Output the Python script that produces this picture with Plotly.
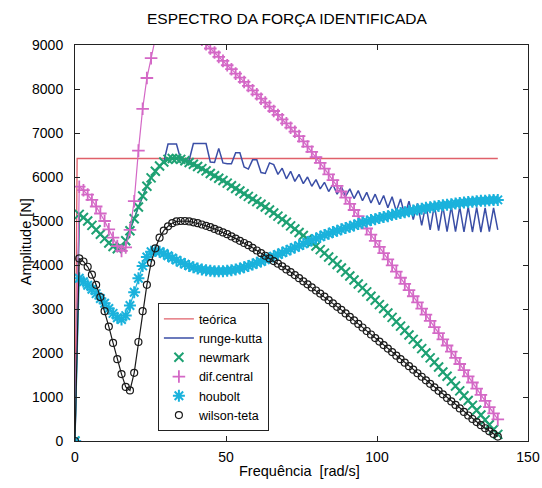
import plotly.graph_objects as go

# frequency grid [rad/s]
freq = [0.0, 1.4, 2.8, 4.2, 5.6, 7.0, 8.4, 9.8, 11.2, 12.6,
        14.0, 15.4, 16.8, 18.2, 19.6, 21.0, 22.4, 23.8, 25.2, 26.6,
        28.0, 29.4, 30.8, 32.2, 33.6, 35.0, 36.4, 37.8, 39.2, 40.6,
        42.0, 43.4, 44.8, 46.2, 47.6, 49.0, 50.4, 51.8, 53.2, 54.6,
        56.0, 57.4, 58.8, 60.2, 61.6, 63.0, 64.4, 65.8, 67.2, 68.6,
        70.0, 71.4, 72.8, 74.2, 75.6, 77.0, 78.4, 79.8, 81.2, 82.6,
        84.0, 85.4, 86.8, 88.2, 89.6, 91.0, 92.4, 93.8, 95.2, 96.6,
        98.0, 99.4, 100.8, 102.2, 103.6, 105.0, 106.4, 107.8, 109.2, 110.6,
        112.0, 113.4, 114.8, 116.2, 117.6, 119.0, 120.4, 121.8, 123.2, 124.6,
        126.0, 127.4, 128.8, 130.2, 131.6, 133.0, 134.4, 135.8, 137.2, 138.6,
        140.0]

teorica_freq = [0.0, 0.7, 140.0]
teorica = [0, 6420, 6420]

runge_kutta = [0, 5150, 5080, 5000, 4900, 4800, 4700, 4600, 4500, 4420,
               4370, 4400, 4550, 4780, 5050, 5320, 5570, 5790, 5980, 6130,
               6250, 6340, 6750, 6750, 6750, 6400, 6380, 6380, 6760, 6760,
               6760, 6760, 6340, 6330, 6650, 6320, 6300, 6300, 6550, 6550,
               6230, 6180, 6390, 6390, 6100, 6080, 6320, 6280, 6060, 6200,
               5960, 6130, 5900, 6060, 5850, 6000, 5790, 5940, 5730, 5880,
               5670, 5830, 5610, 5780, 5560, 5730, 5510, 5690, 5460, 5650,
               5410, 5610, 5370, 5580, 5300, 5550, 5220, 5500, 5130, 5450,
               5030, 5400, 4900, 5380, 4800, 5360, 4780, 5340, 4760, 5330,
               4760, 5320, 4750, 5320, 4750, 5310, 4750, 5300, 4760, 5300,
               4800]

newmark = [0, 5150, 5080, 5000, 4900, 4800, 4700, 4600, 4500, 4420,
           4370, 4400, 4550, 4780, 5050, 5320, 5570, 5790, 5980, 6130,
           6250, 6340, 6400, 6420, 6420, 6400, 6370, 6330, 6290, 6240,
           6190, 6140, 6080, 6030, 5970, 5920, 5860, 5800, 5740, 5680,
           5620, 5560, 5500, 5440, 5380, 5320, 5250, 5180, 5110, 5040,
           4970, 4890, 4820, 4740, 4670, 4590, 4510, 4430, 4350, 4270,
           4180, 4100, 4010, 3930, 3840, 3750, 3660, 3570, 3480, 3390,
           3290, 3200, 3100, 3010, 2910, 2810, 2710, 2610, 2510, 2410,
           2310, 2210, 2100, 2000, 1890, 1790, 1680, 1570, 1470, 1360,
           1250, 1140, 1030, 920, 810, 700, 590, 480, 370, 260,
           150]

dif_central = [0, 5780, 5700, 5600, 5480, 5330, 5170, 5000, 4810, 4620,
               4430, 4320, 4400, 4800, 5450, 6600, 7550, 8250, 8700, 9200,
               9600, 9900, 10100, 10200, 10150, 10000, 9800, 9600, 9400, 9250,
               9120, 9020, 8920, 8830, 8730, 8640, 8540, 8450, 8350, 8260,
               8160, 8070, 7970, 7880, 7780, 7690, 7600, 7500, 7410, 7310,
               7220, 7120, 7030, 6930, 6810, 6690, 6570, 6450, 6320, 6190,
               6060, 5930, 5800, 5670, 5530, 5390, 5250, 5110, 4970, 4830,
               4690, 4550, 4410, 4270, 4130, 3990, 3850, 3710, 3570, 3430,
               3290, 3150, 3010, 2870, 2730, 2590, 2450, 2310, 2170, 2030,
               1890, 1750, 1610, 1470, 1330, 1190, 1050, 910, 770, 630,
               490]

houbolt = [0, 3700, 3620, 3540, 3450, 3350, 3240, 3130, 3010, 2900,
           2800, 2760, 2850, 3080, 3380, 3700, 3980, 4180, 4300, 4320,
           4300, 4260, 4210, 4160, 4110, 4060, 4020, 3980, 3950, 3920,
           3900, 3880, 3870, 3860, 3860, 3860, 3870, 3880, 3900, 3920,
           3950, 3980, 4010, 4050, 4080, 4120, 4160, 4200, 4240, 4280,
           4320, 4360, 4400, 4440, 4480, 4520, 4560, 4600, 4640, 4680,
           4710, 4750, 4780, 4810, 4840, 4870, 4900, 4930, 4960, 4990,
           5020, 5040, 5070, 5090, 5110, 5140, 5160, 5180, 5200, 5220,
           5240, 5260, 5280, 5300, 5310, 5330, 5340, 5360, 5370, 5380,
           5400, 5410, 5420, 5430, 5440, 5450, 5460, 5460, 5470, 5480,
           5480]

wilson_teta = [0, 4150, 4080, 3960, 3780, 3550, 3270, 2950, 2600, 2230,
               1860, 1520, 1230, 1150, 1550, 2250, 2950, 3550, 4050, 4380,
               4620, 4780, 4880, 4950, 4990, 5000, 5000, 4990, 4970, 4950,
               4920, 4890, 4860, 4820, 4780, 4740, 4700, 4650, 4600, 4550,
               4500, 4450, 4390, 4330, 4270, 4210, 4150, 4090, 4030, 3970,
               3900, 3840, 3770, 3700, 3630, 3560, 3490, 3420, 3350, 3280,
               3200, 3130, 3050, 2980, 2900, 2820, 2740, 2660, 2580, 2500,
               2420, 2340, 2260, 2180, 2100, 2020, 1940, 1860, 1780, 1700,
               1620, 1540, 1460, 1380, 1300, 1220, 1140, 1060, 980, 900,
               820, 740, 660, 580, 500, 430, 360, 290, 220, 160,
               100]

x_ticks = [0, 50, 100, 150]
y_ticks = [0, 1000, 2000, 3000, 4000, 5000, 6000, 7000, 8000, 9000]

C_TEO = "#e0606a"
C_RK = "#3a4ea6"
C_NM = "#1ea173"
C_DC = "#d468c6"
C_HB = "#1ab2dc"
C_WT = "#1a1a1a"
FONT = "Liberation Sans"

fig = go.Figure()

fig.add_trace(go.Scatter(x=teorica_freq, y=teorica, mode="lines", name="teórica",
                         line=dict(color=C_TEO, width=1.3)))
fig.add_trace(go.Scatter(x=freq, y=runge_kutta, mode="lines", name="runge-kutta",
                         line=dict(color=C_RK, width=1.5)))

marker_series = [
    ("newmark", newmark, C_NM, "x-thin-open", 9, 2.0),
    ("dif.central", dif_central, C_DC, "cross-thin-open", 9, 1.8),
    ("houbolt", houbolt, C_HB, "asterisk-open", 10, 2.0),
    ("wilson-teta", wilson_teta, C_WT, "circle-open", 7, 1.2),
]
for name, vals, col, sym, sz, lw in marker_series:
    fig.add_trace(go.Scatter(x=freq, y=vals, mode="lines", showlegend=False,
                             line=dict(color=col, width=1.2), hoverinfo="skip"))
    fig.add_trace(go.Scatter(x=freq, y=vals, mode="markers", name=name,
                             marker=dict(symbol=sym, size=sz, color=col,
                                         line=dict(color=col, width=lw))))

axis_common = dict(showline=True, linecolor="#222222", linewidth=1, mirror="ticks",
                   ticks="inside", ticklen=5, tickcolor="#222222", showgrid=False,
                   zeroline=False, automargin=False,
                   tickfont=dict(family=FONT, size=14, color="black"))

fig.update_xaxes(range=[0, 150], tickvals=x_ticks, ticklabelstandoff=3, **axis_common)
fig.update_yaxes(range=[0, 9000], tickvals=y_ticks, ticklabelstandoff=8, **axis_common)

fig.update_layout(
    width=542, height=488,
    margin=dict(l=75, r=14, t=45, b=47),
    paper_bgcolor="white", plot_bgcolor="white",
    font=dict(family=FONT, color="black"),
    showlegend=True,
    legend=dict(x=0.183, y=0.348, xanchor="left", yanchor="top",
                bgcolor="white", bordercolor="#222222", borderwidth=1,
                font=dict(family=FONT, size=12.5, color="black"),
                tracegroupgap=0, itemwidth=30),
    annotations=[
        dict(text="ESPECTRO DA FORÇA IDENTIFICADA", xref="paper", yref="paper",
             x=0.468, y=(441 - 18) / 396, xanchor="center", yanchor="middle",
             showarrow=False, font=dict(family=FONT, size=15.5, color="black")),
        dict(text="Frequência  [rad/s]", xref="paper", yref="paper",
             x=0.495, y=-0.0758, xanchor="center", yanchor="middle",
             showarrow=False, font=dict(family=FONT, size=14.5, color="black")),
        dict(text="Amplitude [N]", xref="paper", yref="paper",
             x=-0.108, y=0.502, xanchor="center", yanchor="middle", textangle=-90,
             showarrow=False, font=dict(family=FONT, size=14.5, color="black")),
    ],
)

fig.write_html("out.html", post_script="document.body.style.margin='0px';",
               config={"displayModeBar": False})
